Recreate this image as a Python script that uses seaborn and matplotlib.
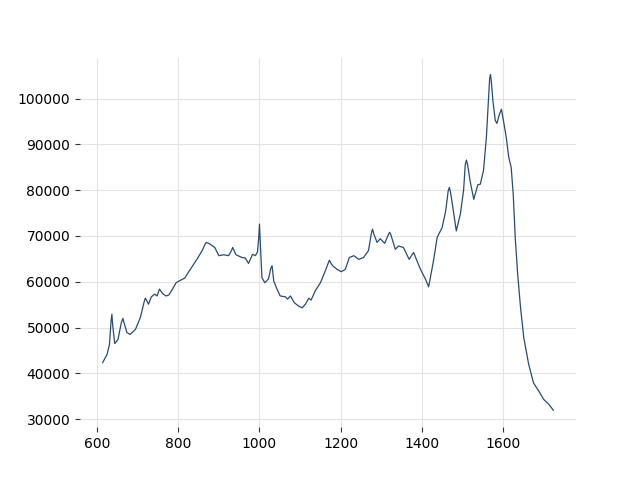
import matplotlib
matplotlib.use("Agg")
import matplotlib.pyplot as plt
import seaborn as sns
import pandas as pd

# wavenumber-like x values and intensity
x_vals = [614, 625, 631, 635, 637, 639, 644, 652, 660, 664, 667, 674, 682, 695,
          707, 716, 719, 722, 727, 734, 742, 748, 754, 762, 770, 777, 786, 795,
          805, 816, 830, 846, 859, 866, 869, 872, 879, 890, 900, 912, 924, 931,
          934, 937, 942, 957, 965, 973, 983, 990, 995, 998, 1000, 1002, 1006,
          1013, 1022, 1028, 1031, 1035, 1043, 1051, 1064, 1069, 1076, 1086, 1096,
          1105, 1113, 1121, 1127, 1137, 1150, 1162, 1170, 1172, 1176, 1180, 1191,
          1201, 1211, 1221, 1232, 1244, 1256, 1268, 1275, 1278, 1281, 1289, 1297,
          1308, 1317, 1320, 1323, 1334, 1342, 1354, 1368, 1379, 1396, 1408, 1416,
          1428, 1437, 1449, 1458, 1464, 1467, 1470, 1476, 1484, 1494, 1502, 1506,
          1509, 1512, 1518, 1527, 1537, 1543, 1551, 1558, 1564, 1566, 1568, 1570,
          1574, 1580, 1584, 1589, 1595, 1600, 1607, 1613, 1619, 1624, 1629, 1635,
          1642, 1650, 1662, 1674, 1687, 1699, 1711, 1723]
intensity = [42300, 44100, 46300, 51500, 52900, 50500, 46500, 47400, 51000, 52000,
             51000, 48900, 48500, 49600, 52200, 55500, 56400, 56000, 55100, 56700,
             57300, 56900, 58400, 57400, 56900, 57100, 58400, 59800, 60300, 60800,
             62700, 64900, 66800, 68200, 68600, 68500, 68200, 67500, 65700, 65900,
             65700, 66800, 67500, 66900, 65900, 65300, 65200, 64000, 66000, 65700,
             66500, 69500, 72600, 68500, 60900, 59800, 60600, 63000, 63500, 60200,
             58400, 56900, 56700, 56200, 56900, 55400, 54700, 54300, 55100, 56400,
             56000, 58000, 59800, 62400, 64300, 64700, 64000, 63500, 62700, 62200,
             62700, 65300, 65700, 64900, 65300, 66800, 70500, 71500, 70500, 68600,
             69400, 68400, 70300, 70800, 70300, 67100, 67800, 67500, 64900, 66400,
             62700, 60600, 58900, 64600, 69700, 71800, 75500, 79800, 80600, 79500,
             76000, 71100, 74800, 80000, 85500, 86600, 85500, 82000, 78000, 81200,
             81300, 84300, 91500, 101000, 104300, 105300, 104000, 99600, 95200,
             94600, 96300, 97700, 95200, 91500, 87200, 85000, 79200, 69700, 61700,
             54400, 47800, 42000, 37900, 36100, 34300, 33300, 31900]

df = pd.DataFrame({"x": x_vals, "y": intensity})

sns.set_style("whitegrid", {"grid.color": "#e3e3e3", "axes.edgecolor": "white"})
plt.rcParams["font.family"] = ["DejaVu Sans"]
plt.rcParams["xtick.bottom"] = True
plt.rcParams["ytick.left"] = True
plt.rcParams["xtick.color"] = "#333333"
plt.rcParams["ytick.color"] = "#333333"
plt.rcParams["xtick.labelcolor"] = "black"
plt.rcParams["ytick.labelcolor"] = "black"

fig, ax = plt.subplots(figsize=(6.4, 4.8), dpi=100)
sns.lineplot(data=df, x="x", y="y", color="#2b4a6f", linewidth=0.9, ax=ax)
ax.set_xlabel("")
ax.set_ylabel("")
ax.set_xticks([600, 800, 1000, 1200, 1400, 1600])
ax.set_yticks([30000, 40000, 50000, 60000, 70000, 80000, 90000, 100000])
ax.tick_params(axis="both", labelsize=10, length=3.5, width=0.8)
sns.despine(left=True, bottom=True)
fig.savefig("out.png", dpi=100)
